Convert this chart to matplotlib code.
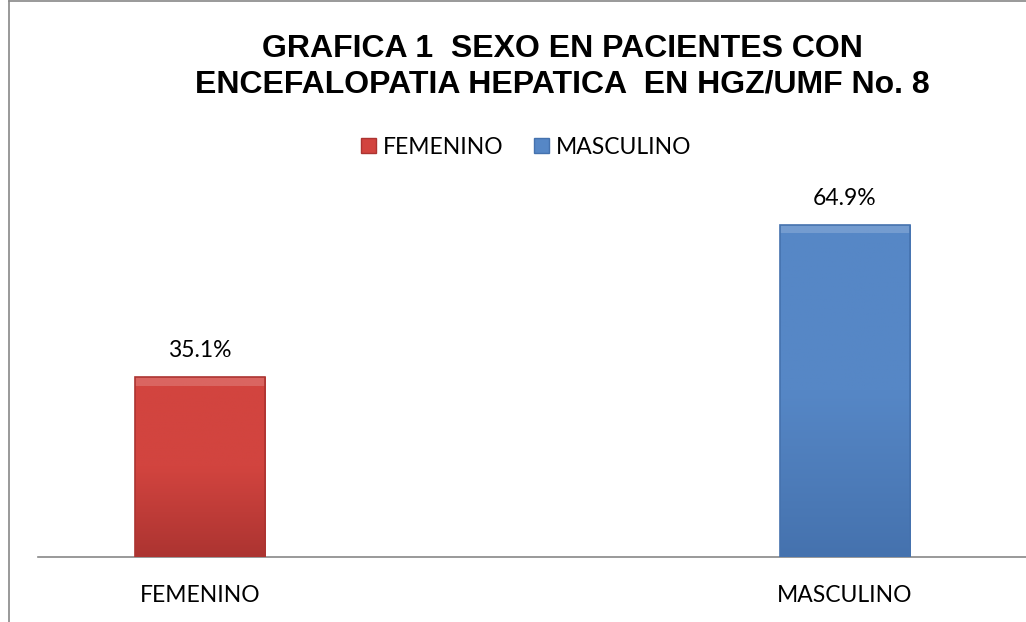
import numpy as np
import matplotlib.pyplot as plt
from matplotlib.lines import Line2D
from matplotlib.patches import Patch, Rectangle
from matplotlib.colors import LinearSegmentedColormap

categories = ["FEMENINO", "MASCULINO"]
values = [35.1, 64.9]
labels = ["35.1%", "64.9%"]
colors = ["#D2443F", "#5687C6"]
dark_colors = ["#AC3431", "#4572AE"]
title = "GRAFICA 1  SEXO EN PACIENTES CON\nENCEFALOPATIA HEPATICA  EN HGZ/UMF No. 8"

fig = plt.figure(figsize=(10.26, 6.22), dpi=100)
W, H = 1026, 622
# plot area in pixels: left 38, right 1026, baseline 557, top 199
ax = fig.add_axes([38 / W, (H - 557) / H, (1026 - 38) / W, (557 - 199) / H])

x = np.arange(len(categories))
bars = ax.bar(x, values, width=0.2016, color=colors, edgecolor="none", zorder=2)

# vertical gradient inside each bar, light bevel at the top
for b, c1, c2 in zip(bars, colors, dark_colors):
    grad = np.linspace(0, 1, 256).reshape(-1, 1)
    cmap = LinearSegmentedColormap.from_list("g", [c2, c1, c1])
    x0, y0, bw, bh = b.get_x(), b.get_y(), b.get_width(), b.get_height()
    im = ax.imshow(grad, cmap=cmap, aspect="auto", origin="lower",
                   extent=[x0, x0 + bw, y0, y0 + bh], zorder=3)
    im.set_clip_path(b)
    ax.add_patch(Rectangle((x0, y0 + bh - 1.6), bw, 1.6, facecolor="white",
                           alpha=0.18, edgecolor="none", zorder=4))
    ax.add_patch(Rectangle((x0, y0), bw, bh, fill=False, edgecolor=c2, lw=1.2, zorder=5))

for xi, v, lab in zip(x, values, labels):
    ax.annotate(lab, (xi, v), xytext=(0, 27), textcoords="offset pixels",
                ha="center", va="center", fontsize=16.5, family="Lato")

ax.set_xlim(-0.251, 1.281)
ax.set_ylim(0, 70)
ax.set_yticks([])
ax.set_xticks(x)
ax.set_xticklabels(categories, fontsize=16.5, family="Lato")
ax.tick_params(axis="x", length=0, pad=20)
for s in ["top", "right", "left"]:
    ax.spines[s].set_visible(False)
ax.spines["bottom"].set_color("#888888")
ax.spines["bottom"].set_linewidth(1.2)

fig.text(562 / W, 1 - 67 / H, title, ha="center", va="center", fontsize=23,
         fontweight="bold", family="Liberation Sans", linespacing=1.22)

# legend
handles = [Patch(facecolor=c, edgecolor=d) for c, d in zip(colors, dark_colors)]
fig.legend(handles, categories, loc="center", bbox_to_anchor=(526 / W, 1 - 147 / H),
           ncol=2, frameon=False, prop={"family": "Lato", "size": 16.5},
           handlelength=0.65, handleheight=0.65, handletextpad=0.3,
           columnspacing=1.35, borderpad=0, borderaxespad=0)

# chart frame
fig.add_artist(Line2D([9 / W, 9 / W], [0, 1 - 1 / H], color="#888888", lw=1.2))
fig.add_artist(Line2D([9 / W, 1], [1 - 1 / H, 1 - 1 / H], color="#888888", lw=1.2))

fig.savefig("out.png", dpi=100)
